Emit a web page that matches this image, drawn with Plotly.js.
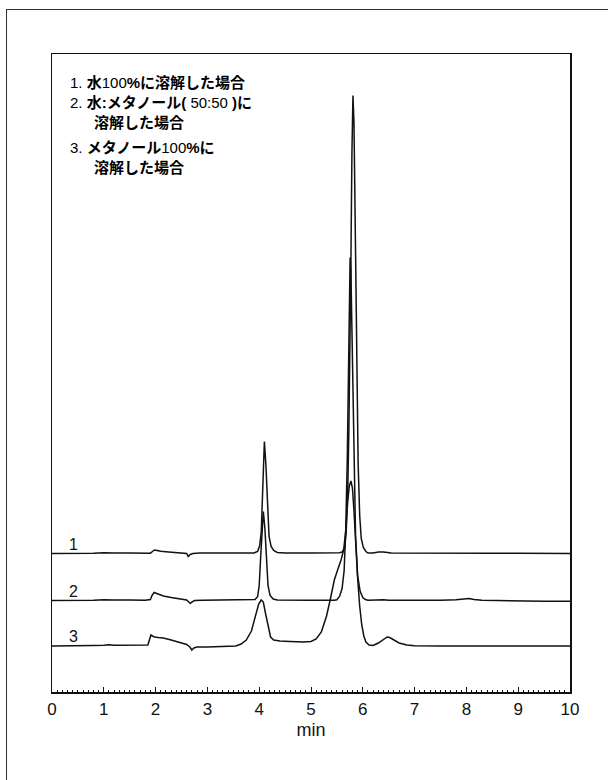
<!DOCTYPE html>
<html>
<head>
<meta charset="utf-8">
<script src="https://cdn.plot.ly/plotly-3.0.1.min.js"></script>
<style>
  html, body { margin: 0; padding: 0; background: #fff; overflow: hidden; }
  #chart { width: 608px; height: 780px; position: absolute; left: 0; top: 0; }
  #frame { position: absolute; left: 6px; top: 9px; width: 800px; height: 900px;
           border-top: 1.5px solid #333; border-left: 1.5px solid #333; pointer-events: none; z-index: 10; }
</style>
</head>
<body>
<div id="chart"></div>
<div id="frame"></div>
<script>
// Retention time (min) and detector signal (arbitrary units above each baseline)
const t1 = [0, 0.4, 0.8, 1.0, 1.1, 1.2, 1.5, 1.8, 1.9, 1.94, 1.98, 2.03, 2.1, 2.25, 2.4, 2.55, 2.6, 2.63, 2.67, 2.72, 2.85, 3.2, 3.6, 3.9, 3.97, 4.01, 4.04, 4.07, 4.1, 4.13, 4.16, 4.19, 4.23, 4.28, 4.35, 4.5, 5.0, 5.4, 5.55, 5.6, 5.65, 5.68, 5.71, 5.73, 5.75, 5.77, 5.79, 5.81, 5.83, 5.85, 5.87, 5.89, 5.91, 5.94, 5.97, 6.01, 6.06, 6.1, 6.2, 6.3, 6.4, 6.55, 7.0, 7.5, 8.0, 8.5, 9.0, 9.5, 10];
const s1 = [0, 0, 0.3, 0.8, 1, 0.5, 0.6, 0.5, 0.3, 2, 3.5, 3, 2.2, 1.5, 1, 0.5, 0, -3, -1, 0, 0.4, 0.4, 0.5, 0.6, 2, 8, 22, 78, 112, 88, 42, 17, 7, 3, 1, 0.5, 0.5, 0.5, 0.8, 1.5, 6, 22, 65, 120, 195, 290, 400, 458, 430, 340, 235, 150, 90, 38, 15, 6, 2, 0.5, 0.5, 1.5, 1.5, 0.5, 0.3, 0.3, 0.3, 0.2, 0.2, 0.1, 0];

const t2 = [0, 0.4, 0.8, 1.0, 1.1, 1.2, 1.5, 1.8, 1.9, 1.93, 1.97, 2.0, 2.05, 2.15, 2.3, 2.45, 2.6, 2.64, 2.67, 2.7, 2.75, 2.9, 3.3, 3.7, 3.92, 3.97, 4.0, 4.03, 4.06, 4.08, 4.11, 4.14, 4.17, 4.21, 4.27, 4.35, 4.5, 5.0, 5.45, 5.5, 5.55, 5.6, 5.64, 5.67, 5.7, 5.72, 5.74, 5.755, 5.77, 5.79, 5.81, 5.83, 5.86, 5.9, 5.95, 6.0, 6.05, 6.1, 6.2, 6.3, 6.4, 6.5, 7.0, 7.5, 7.8, 7.95, 8.05, 8.15, 8.3, 8.6, 9.0, 9.5, 10];
const s2 = [0, 0, 0.3, 0.8, 1, 0.5, 0.5, 0.3, 1, 5, 8, 7.5, 6, 4.5, 3, 1.5, 0.5, -1.5, -3, -1.5, 0, 0.3, 0.3, 0.4, 1, 4, 15, 45, 80, 89, 72, 37, 15, 5, 1.5, 0.5, 0.3, 0.3, 0.3, 0.8, 4, 12, 30, 70, 140, 220, 315, 343, 330, 270, 195, 130, 65, 25, 9, 3, 1, 0.2, 0.5, 1, 0.8, 0.3, 0, 0.3, 0.8, 1.8, 2, 1, 0.3, 0, -0.5, -0.8, -0.8];

const t3 = [0, 0.4, 0.8, 1.0, 1.1, 1.2, 1.5, 1.75, 1.85, 1.88, 1.91, 1.94, 1.98, 2.05, 2.15, 2.3, 2.45, 2.6, 2.66, 2.7, 2.74, 2.8, 3.0, 3.3, 3.55, 3.65, 3.75, 3.85, 3.93, 3.99, 4.04, 4.08, 4.12, 4.17, 4.22, 4.28, 4.4, 4.6, 4.85, 5.0, 5.1, 5.2, 5.3, 5.37, 5.45, 5.52, 5.58, 5.63, 5.67, 5.71, 5.74, 5.77, 5.8, 5.83, 5.86, 5.9, 5.94, 5.98, 6.02, 6.06, 6.12, 6.2, 6.3, 6.4, 6.47, 6.52, 6.6, 6.7, 6.85, 7.0, 7.5, 8.0, 8.5, 9.0, 9.5, 10];
const s3 = [0, 0, 0.5, 0.8, 1.2, 0.8, 0.6, 0.5, 1, 6, 11, 10, 9, 8.5, 8, 6, 4, 1.5, -1, -4, -2, -1, -1, -0.5, 0, 2, 6, 15, 30, 42, 46, 44, 33, 20, 9, 6, 5, 4.5, 4, 4.5, 7, 14, 30, 46, 66, 77, 86, 96, 115, 145, 160, 165, 158, 135, 105, 68, 40, 21, 10, 4, 1, 0.5, 3, 7, 9, 8.5, 6, 3, 1, 0.2, 0, 0.3, 0, 0, 0, 0];

// Vertical offsets of the three chromatograms (stacked display)
const baselines = [138.5, 91.5, 46];
const traceLabels = ["1", "2", "3"];

// Legend text lines
const legendLines = [
  "1. <b>水</b>100<b>%に溶解した場合</b>",
  "2. <b>水:メタノール(</b> 50:50 <b>)に</b>",
  "<b>溶解した場合</b>",
  "3. <b>メタノール</b>100<b>%に</b>",
  "<b>溶解した場合</b>"
];
const xTicks = [0, 1, 2, 3, 4, 5, 6, 7, 8, 9, 10];

const FONT = "Liberation Sans, Arial, Noto Sans CJK JP, sans-serif";
const series = [[t1, s1], [t2, s2], [t3, s3]];

const data = series.map(([t, s], i) => ({
  x: t,
  y: s.map(v => v + baselines[i]),
  type: 'scatter',
  mode: 'lines',
  line: { color: '#111', width: 1.5 },
  hoverinfo: 'skip',
  showlegend: false
}));

const annotations = [];
traceLabels.forEach((lab, i) => {
  annotations.push({
    x: 0.41, y: baselines[i] + 9.5, xref: 'x', yref: 'y',
    text: lab, showarrow: false, xanchor: 'center', yanchor: 'middle',
    font: { family: FONT, size: 16, color: '#111' }
  });
});
const legendX = [0.03, 0.03, 0.078, 0.03, 0.078];
const legendY = [0.9553, 0.9237, 0.8923, 0.8538, 0.8224];
legendLines.forEach((txt, i) => {
  annotations.push({
    x: legendX[i], y: legendY[i], xref: 'paper', yref: 'paper',
    text: txt, showarrow: false, xanchor: 'left', yanchor: 'middle',
    font: { family: FONT, size: 15, color: '#000' }
  });
});

const layout = {
  width: 608, height: 780,
  margin: { l: 52, r: 38, t: 54, b: 88 },
  paper_bgcolor: 'rgba(0,0,0,0)',
  plot_bgcolor: 'rgba(0,0,0,0)',
  font: { family: FONT, color: '#111' },
  xaxis: {
    range: [0, 10], tickvals: xTicks, ticktext: xTicks.map(String),
    showline: true, mirror: true, linecolor: '#111', linewidth: 1.5,
    ticks: 'inside', ticklen: 5, tickwidth: 1, tickcolor: '#111',
    minor: { dtick: 0.1, ticks: 'inside', ticklen: 2.5, tickwidth: 1, tickcolor: '#111', showgrid: false },
    showgrid: false, zeroline: false,
    tickfont: { family: FONT, size: 17, color: '#111' },
    ticklabelstandoff: 1,
    title: { text: 'min', font: { family: FONT, size: 18, color: '#111' }, standoff: 5 }
  },
  yaxis: {
    range: [0, 638],
    showline: true, mirror: true, linecolor: '#111', linewidth: 1.5,
    showticklabels: false, ticks: '', showgrid: false, zeroline: false
  },
  annotations: annotations
};

Plotly.newPlot('chart', data, layout, { staticPlot: true, displayModeBar: false });
</script>
</body>
</html>
